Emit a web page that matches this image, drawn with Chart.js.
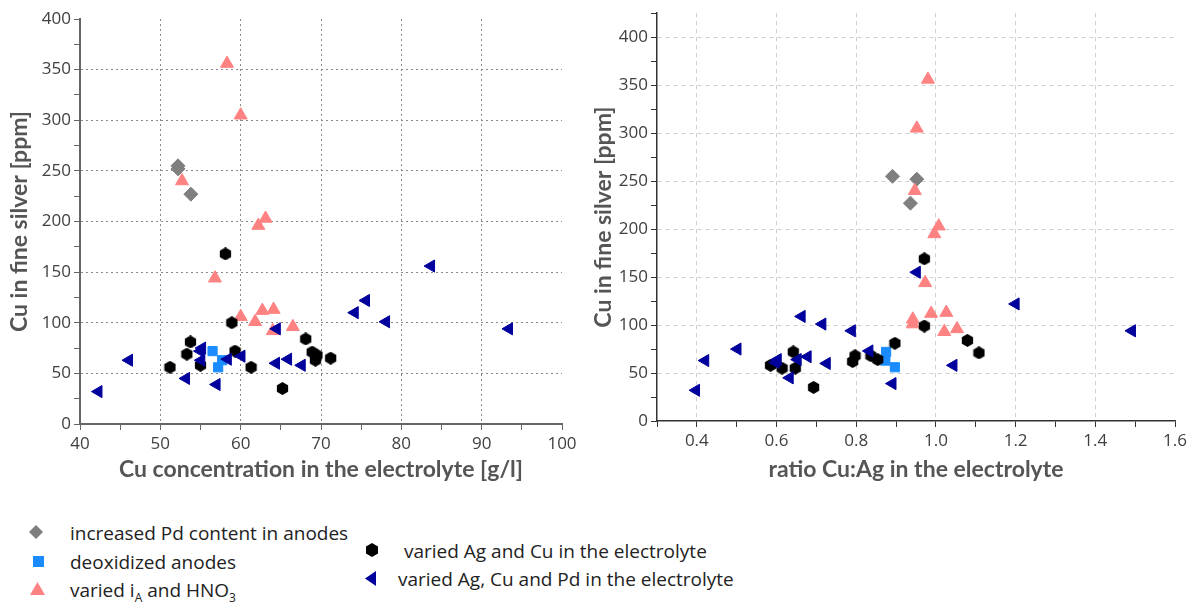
<!DOCTYPE html>
<html lang="en">
<head>
<meta charset="UTF-8">
<title>Cu in fine silver</title>
<script src="https://cdn.jsdelivr.net/npm/chart.js"></script>
<style>
    body {
        margin: 0;
        background: #fff;
        font-family: "Open Sans", sans-serif;
    }
    #wrap {
        position: relative;
        width: 1195px;
        height: 608px;
        overflow: hidden;
    }
    .box {
        position: absolute;
        top: 0;
        height: 490px;
    }
    .item {
        position: absolute;
        font-size: 19px;
        color: #222;
        line-height: 24px;
        white-space: nowrap;
    }
    .mark {
        position: absolute;
    }
    sub { font-size: 12px; }
</style>
</head>
<body>
<div id="wrap">
    <div class="box" style="left:0;width:590px"><canvas id="chartLeft"></canvas></div>
    <div class="box" style="left:590px;width:605px"><canvas id="chartRight"></canvas></div>

    <div class="mark" style="left:29px;top:525px;width:14px;height:14px;background:#7f7f7f;clip-path:polygon(50% 0,100% 50%,50% 100%,0 50%)"></div>
    <div class="item" style="left:70px;top:521px">increased Pd content in anodes</div>
    <div class="mark" style="left:33px;top:556px;width:11px;height:11px;background:#1a8cff"></div>
    <div class="item" style="left:70px;top:550px">deoxidized anodes</div>
    <div class="mark" style="left:30px;top:582px;width:15px;height:13px;background:#ff8282;clip-path:polygon(50% 0,100% 100%,0 100%)"></div>
    <div class="item" style="left:70px;top:578px">varied i<sub>A</sub> and HNO<sub>3</sub></div>

    <div class="mark" style="left:366px;top:543px;width:12px;height:14px;background:#000;clip-path:polygon(50% 0,100% 25%,100% 75%,50% 100%,0 75%,0 25%)"></div>
    <div class="item" style="left:404px;top:539px">varied Ag and Cu in the electrolyte</div>
    <div class="mark" style="left:365px;top:571px;width:11px;height:15px;background:#00009c;clip-path:polygon(0 50%,100% 0,100% 100%)"></div>
    <div class="item" style="left:398px;top:567px">varied Ag, Cu and Pd in the electrolyte</div>
</div>

<script>
    // left chart: Cu concentration [g/l] vs Cu in fine silver [ppm]
    const pdX = [52.2, 52.2, 53.8];
    const pdY = [255, 252, 227];
    const deoxX = [56.5, 57.7, 57.2];
    const deoxY = [72, 63, 56];
    const iaX = [58.3, 60.0, 52.7, 63.1, 62.2, 56.8, 60.0, 62.7, 64.1, 61.8, 66.5, 64.0];
    const iaY = [356, 305, 240, 203, 196, 144, 106, 112, 113, 101, 96, 92];
    const agCuX = [58.1, 58.9, 53.75, 53.3, 51.2, 55.0, 59.3, 61.3, 65.2, 68.1, 68.9, 69.5, 69.3, 71.2];
    const agCuY = [168, 100, 81, 69, 56, 58, 72, 56, 35, 84, 71, 68, 63, 65];
    const agCuPdX = [83.7, 75.6, 74.2, 78.1, 93.4, 64.5, 55.2, 55.0, 55.1, 46.1, 58.4, 60.1, 64.4, 65.9, 67.6, 53.2, 57.0, 42.3];
    const agCuPdY = [156, 122, 110, 101, 94, 94, 75, 72, 63, 63, 64, 67, 60, 64, 58, 45, 39, 32];

    // right chart: ratio Cu:Ag vs Cu in fine silver [ppm]
    const pdRatio = [0.891, 0.952, 0.936];
    const pdRatioY = [255, 252, 227];
    const deoxRatio = [0.875, 0.873, 0.897];
    const deoxRatioY = [72, 63, 56];
    const iaRatio = [0.98, 0.952, 0.947, 1.007, 0.996, 0.973, 0.942, 0.942, 0.988, 1.026, 1.053, 1.021];
    const iaRatioY = [356, 305, 240, 203, 195, 144, 106, 101, 112, 113, 96, 93];
    const agCuRatio = [0.971, 0.971, 0.897, 0.642, 0.585, 0.614, 0.647, 0.693, 0.797, 0.791, 0.837, 0.854, 1.079, 1.108];
    const agCuRatioY = [169, 99, 81, 72, 58, 55, 55, 35, 68, 62, 68, 64, 84, 71];
    const agCuPdRatio = [0.952, 1.2, 0.663, 0.715, 0.789, 1.492, 0.502, 0.833, 0.603, 0.421, 0.653, 0.678, 0.726, 1.044, 0.633, 0.891, 0.398, 0.598];
    const agCuPdRatioY = [155, 122, 109, 101, 94, 94, 75, 73, 64, 63, 64, 67, 60, 58, 45, 39, 32, 61];

    const TICK_COLOR = '#404040';
    const TITLE_COLOR = '#555';

    function zip(xs, ys) {
        return xs.map((x, i) => ({ x: x, y: ys[i] }));
    }

    function hexagon(size) {
        const c = document.createElement('canvas');
        c.width = size;
        c.height = size;
        const g = c.getContext('2d');
        const r = size / 2;
        g.fillStyle = '#000';
        g.beginPath();
        for (let i = 0; i < 6; i++) {
            const a = Math.PI / 3 * i - Math.PI / 2;
            g.lineTo(r + r * Math.cos(a), r + r * Math.sin(a));
        }
        g.closePath();
        g.fill();
        return c;
    }

    const hexImg = hexagon(13);

    function series(data, style, color, radius, rotation) {
        return {
            data: data,
            pointStyle: style,
            pointRadius: radius,
            pointHoverRadius: radius,
            pointRotation: rotation || 0,
            pointBackgroundColor: color,
            pointBorderColor: color,
            pointBorderWidth: 1,
            showLine: false
        };
    }

    // first dataset ends up on top
    function datasets(pd, deox, ia, agCu, agCuPd) {
        return [
            series(agCuPd, 'triangle', '#00009c', 7, -90),
            series(agCu, hexImg, '#000', 7),
            series(ia, 'triangle', '#ff8282', 7.5),
            series(deox, 'rect', '#1a8cff', 6.5),
            series(pd, 'rectRot', '#7f7f7f', 7)
        ];
    }

    function titleOpts(text, padding) {
        return {
            display: true,
            text: text,
            color: TITLE_COLOR,
            font: { family: 'Lato', size: 23, weight: 'bold' },
            padding: padding
        };
    }

    function makeChart(id, data, x, y, pad) {
        return new Chart(document.getElementById(id), {
            type: 'scatter',
            data: { datasets: data },
            options: {
                responsive: true,
                maintainAspectRatio: false,
                animation: false,
                layout: { padding: pad },
                plugins: { legend: { display: false }, tooltip: { enabled: false } },
                scales: { x: x, y: y }
            }
        });
    }

    // left
    makeChart('chartLeft',
        datasets(zip(pdX, pdY), zip(deoxX, deoxY), zip(iaX, iaY), zip(agCuX, agCuY), zip(agCuPdX, agCuPdY)),
        {
            min: 40, max: 100,
            afterFit: s => { s.height = 66; },
            ticks: {
                stepSize: 5, autoSkip: false, maxRotation: 0, padding: 4,
                color: TICK_COLOR, font: { family: 'Open Sans', size: 17 },
                callback: v => v % 10 === 0 ? v : ''
            },
            grid: {
                color: c => (c.tick && c.tick.value % 10 === 0 && c.tick.value > 40 && c.tick.value < 100) ? '#8a8a8a' : 'rgba(0,0,0,0)',
                tickColor: '#666', tickLength: 6, lineWidth: 1
            },
            border: { color: '#666', width: 2, dash: [2, 3] },
            title: titleOpts('Cu concentration in the electrolyte [g/l]', { top: 0, bottom: 7 })
        },
        {
            min: 0, max: 400,
            afterFit: s => { s.width = 80; },
            ticks: {
                stepSize: 25, autoSkip: false, padding: 3,
                color: TICK_COLOR, font: { family: 'Open Sans', size: 17 },
                callback: v => v % 50 === 0 ? v : ''
            },
            grid: {
                color: c => (c.tick && c.tick.value % 50 === 0 && c.tick.value > 0 && c.tick.value < 400) ? '#8a8a8a' : 'rgba(0,0,0,0)',
                tickColor: '#666', tickLength: 6, lineWidth: 1
            },
            border: { color: '#666', width: 2, dash: [2, 3] },
            title: titleOpts('Cu in fine silver [ppm]', { top: 6, bottom: 0 })
        },
        { top: 19, right: 28, left: 0, bottom: 0 }
    );

    // right
    makeChart('chartRight',
        datasets(zip(pdRatio, pdRatioY), zip(deoxRatio, deoxRatioY), zip(iaRatio, iaRatioY), zip(agCuRatio, agCuRatioY), zip(agCuPdRatio, agCuPdRatioY)),
        {
            min: 0.3, max: 1.6,
            afterFit: s => { s.height = 69; },
            ticks: {
                stepSize: 0.1, autoSkip: false, maxRotation: 0, padding: 4,
                color: TICK_COLOR, font: { family: 'Open Sans', size: 17 },
                callback: v => Math.round(v * 10) % 2 === 0 ? v.toFixed(1) : ''
            },
            grid: {
                color: c => {
                    if (!c.tick) return 'rgba(0,0,0,0)';
                    const t = Math.round(c.tick.value * 10);
                    return (t % 2 === 0 && t > 3 && t < 16) ? '#cfcfcf' : 'rgba(0,0,0,0)';
                },
                tickColor: '#333', tickLength: 6, lineWidth: 1
            },
            border: { color: '#333', width: 1.5, dash: [4, 4] },
            title: titleOpts('ratio Cu:Ag in the electrolyte', { top: 0, bottom: 7 })
        },
        {
            min: 0, max: 425,
            afterFit: s => { s.width = 67; },
            ticks: {
                stepSize: 25, autoSkip: false, padding: 3,
                color: TICK_COLOR, font: { family: 'Open Sans', size: 17 },
                callback: v => v % 50 === 0 ? v : ''
            },
            grid: {
                color: c => (c.tick && c.tick.value % 50 === 0 && c.tick.value > 0) ? '#cfcfcf' : 'rgba(0,0,0,0)',
                tickColor: '#333', tickLength: 6, lineWidth: 1
            },
            border: { color: '#333', width: 1.5, dash: [4, 4] },
            title: titleOpts('Cu in fine silver [ppm]', { top: 0, bottom: 0 })
        },
        { top: 11, right: 20, left: 0, bottom: 0 }
    );
</script>
</body>
</html>
